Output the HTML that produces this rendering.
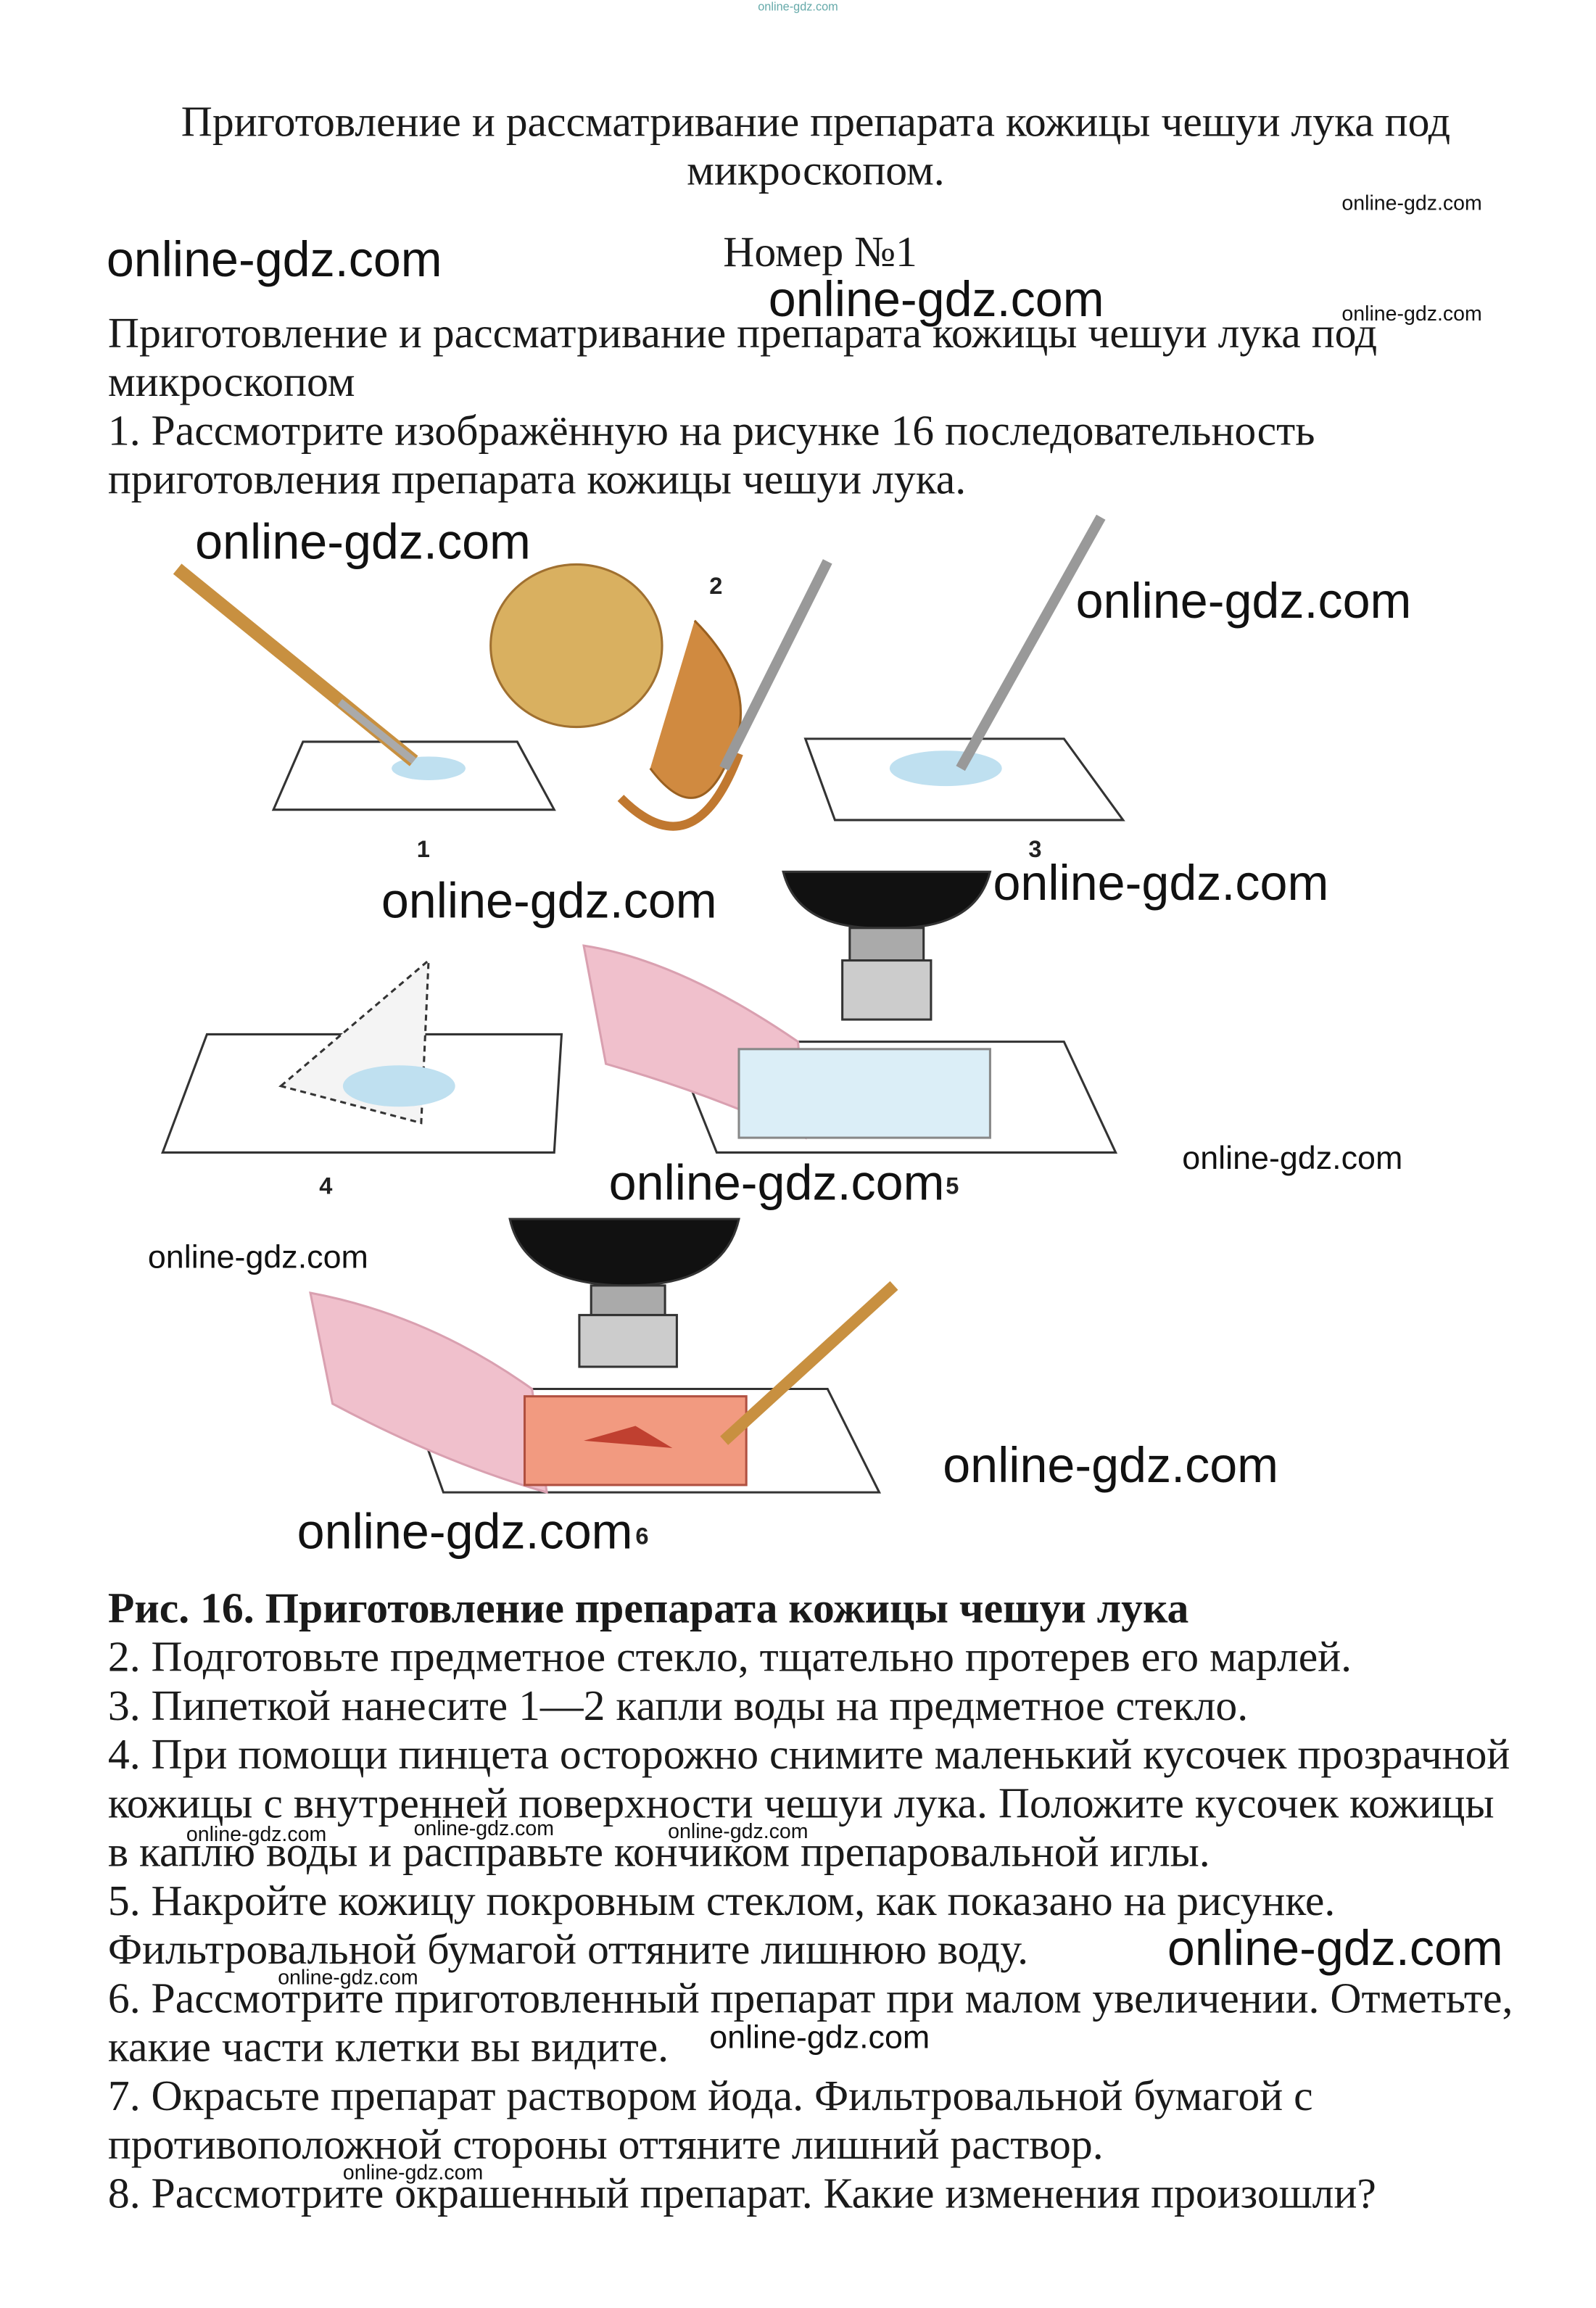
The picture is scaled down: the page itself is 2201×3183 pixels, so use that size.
<!DOCTYPE html>
<html><head><meta charset="utf-8"><style>
html,body{margin:0;padding:0;background:#fff}
svg{display:block}
.t{font-family:"Liberation Serif",serif;font-size:29.3px;fill:#1a1a1a}
.w{font-family:"Liberation Sans",sans-serif;font-size:33.5px;fill:#111}
.ws{font-family:"Liberation Sans",sans-serif;font-size:14px;fill:#111}
.n{font-family:"Liberation Sans",sans-serif;font-size:16px;font-weight:bold;fill:#222}
</style></head><body>
<svg width="2201" height="3183" viewBox="0 0 1080 1562" xmlns="http://www.w3.org/2000/svg">
<rect width="1080" height="1562" fill="#fff"/>
<text x="540" y="7" class="ws" style="font-size:8px;fill:#6aa" text-anchor="middle">online-gdz.com</text>
<text x="552" y="92" class="t" text-anchor="middle">Приготовление и рассматривание препарата кожицы чешуи лука под</text>
<text x="552" y="125" class="t" text-anchor="middle">микроскопом.</text>
<text x="555" y="180" class="t" text-anchor="middle">Номер №1</text>
<text x="73" y="235" class="t">Приготовление и рассматривание препарата кожицы чешуи лука под</text>
<text x="73" y="268" class="t">микроскопом</text>
<text x="73" y="301" class="t">1. Рассмотрите изображённую на рисунке 16 последовательность</text>
<text x="73" y="334" class="t">приготовления препарата кожицы чешуи лука.</text>

<g stroke="#333" stroke-width="1.5" fill="none">
<polygon points="205,502 350,502 375,548 185,548" fill="#fff"/>
<ellipse cx="290" cy="520" rx="25" ry="8" fill="#bfe0f0" stroke="none"/>
<line x1="120" y1="385" x2="280" y2="515" stroke="#c89040" stroke-width="9"/>
<line x1="230" y1="475" x2="280" y2="515" stroke="#aaa" stroke-width="5"/>
<ellipse cx="390" cy="437" rx="58" ry="55" fill="#d9b060" stroke="#a07030"/>
<path d="M470,420 Q520,470 490,520 Q470,560 440,520" fill="#d08a40" stroke="#9a6020"/>
<path d="M420,540 Q470,590 500,510" stroke="#c07830" stroke-width="6"/>
<line x1="560" y1="380" x2="490" y2="520" stroke="#999" stroke-width="7"/>
<polygon points="545,500 720,500 760,555 565,555" fill="#fff"/>
<ellipse cx="640" cy="520" rx="38" ry="12" fill="#bfe0f0" stroke="none"/>
<line x1="745" y1="350" x2="650" y2="520" stroke="#999" stroke-width="7"/>
<path d="M530,590 L670,590 Q660,630 600,628 Q540,630 530,590Z" fill="#111"/>
<rect x="575" y="628" width="50" height="22" fill="#aaa"/>
<rect x="570" y="650" width="60" height="40" fill="#ccc"/>
<polygon points="140,700 380,700 375,780 110,780" fill="#fff"/>
<polygon points="190,735 290,650 285,760" fill="#f4f4f4" stroke-dasharray="4,3"/>
<ellipse cx="270" cy="735" rx="38" ry="14" fill="#bfe0f0" stroke="none"/>
<polygon points="455,705 720,705 755,780 485,780" fill="#fff"/>
<path d="M395,640 Q460,650 540,705 L545,770 Q480,740 410,720Z" fill="#f0c0cc" stroke="#d9a0b0"/>
<rect x="500" y="710" width="170" height="60" fill="#dbeef7" stroke="#888"/>
<path d="M345,825 L500,825 Q490,870 425,870 Q355,870 345,825Z" fill="#111"/>
<rect x="400" y="870" width="50" height="20" fill="#aaa"/>
<rect x="392" y="890" width="66" height="35" fill="#ccc"/>
<polygon points="275,940 560,940 595,1010 300,1010" fill="#fff"/>
<path d="M210,875 Q290,890 360,940 L370,1010 Q300,990 225,950Z" fill="#f0c0cc" stroke="#d9a0b0"/>
<rect x="355" y="945" width="150" height="60" fill="#f29a80" stroke="#b05040"/>
<polygon points="395,975 430,965 455,980" fill="#c04030" stroke="none"/>
<line x1="605" y1="870" x2="490" y2="975" stroke="#c89040" stroke-width="8"/>
</g>
<text x="282" y="580" class="n">1</text><text x="480" y="402" class="n">2</text><text x="696" y="580" class="n">3</text>
<text x="216" y="808" class="n">4</text><text x="640" y="808" class="n">5</text><text x="430" y="1045" class="n">6</text>

<text x="73" y="1098" class="t" font-weight="bold">Рис. 16. Приготовление препарата кожицы чешуи лука</text>
<text x="73" y="1131" class="t">2. Подготовьте предметное стекло, тщательно протерев его марлей.</text>
<text x="73" y="1164" class="t">3. Пипеткой нанесите 1—2 капли воды на предметное стекло.</text>
<text x="73" y="1197" class="t">4. При помощи пинцета осторожно снимите маленький кусочек прозрачной</text>
<text x="73" y="1230" class="t">кожицы с внутренней поверхности чешуи лука. Положите кусочек кожицы</text>
<text x="73" y="1263" class="t">в каплю воды и расправьте кончиком препаровальной иглы.</text>
<text x="73" y="1296" class="t">5. Накройте кожицу покровным стеклом, как показано на рисунке.</text>
<text x="73" y="1329" class="t">Фильтровальной бумагой оттяните лишнюю воду.</text>
<text x="73" y="1362" class="t">6. Рассмотрите приготовленный препарат при малом увеличении. Отметьте,</text>
<text x="73" y="1395" class="t">какие части клетки вы видите.</text>
<text x="73" y="1428" class="t">7. Окрасьте препарат раствором йода. Фильтровальной бумагой с</text>
<text x="73" y="1461" class="t">противоположной стороны оттяните лишний раствор.</text>
<text x="73" y="1494" class="t">8. Рассмотрите окрашенный препарат. Какие изменения произошли?</text>

<text x="72" y="187" class="w">online-gdz.com</text>
<text x="520" y="214" class="w">online-gdz.com</text>
<text x="908" y="142" class="ws">online-gdz.com</text>
<text x="908" y="217" class="ws">online-gdz.com</text>
<text x="132" y="378" class="w">online-gdz.com</text>
<text x="728" y="418" class="w">online-gdz.com</text>
<text x="258" y="621" class="w">online-gdz.com</text>
<text x="672" y="609" class="w">online-gdz.com</text>
<text x="800" y="791" class="ws" style="font-size:22px">online-gdz.com</text>
<text x="412" y="812" class="w">online-gdz.com</text>
<text x="100" y="858" class="ws" style="font-size:22px">online-gdz.com</text>
<text x="638" y="1003" class="w">online-gdz.com</text>
<text x="201" y="1048" class="w">online-gdz.com</text>
<text x="126" y="1246" class="ws">online-gdz.com</text>
<text x="280" y="1242" class="ws">online-gdz.com</text>
<text x="452" y="1244" class="ws">online-gdz.com</text>
<text x="790" y="1330" class="w">online-gdz.com</text>
<text x="188" y="1343" class="ws">online-gdz.com</text>
<text x="480" y="1386" class="ws" style="font-size:22px">online-gdz.com</text>
<text x="232" y="1475" class="ws">online-gdz.com</text>
</svg>
</body></html>
